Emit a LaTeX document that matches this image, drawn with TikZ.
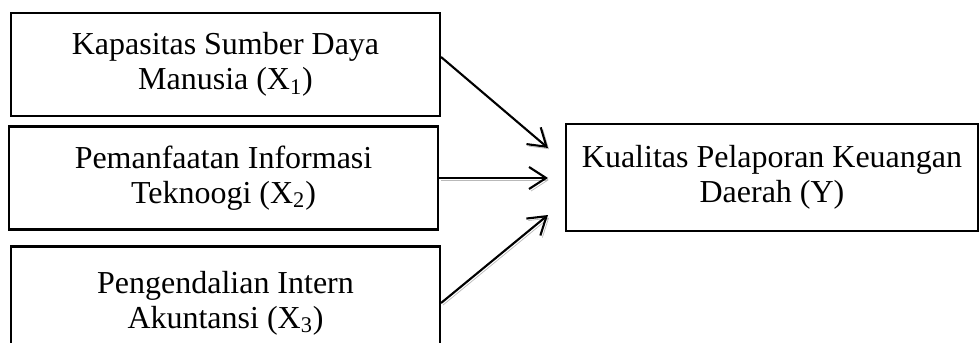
\documentclass[tikz,border=0pt]{standalone}
\usepackage{fontspec}
\setmainfont{Liberation Serif}
\usetikzlibrary{arrows.meta}

\tikzset{
  varbox/.style={draw=black, line width=1.2pt, minimum width=8.58cm, minimum height=2.06cm,
    align=center, inner sep=0pt, font=\fontsize{18.2}{20}\selectfont},
  arr/.style={line width=1.2pt, -{Straight Barb[length=0.34cm, width=0.44cm, line width=1.2pt]},
    preaction={draw=gray!55, transform canvas={shift={(0.04cm,-0.04cm)}}}}
}

\begin{document}
\begin{tikzpicture}
        \useasboundingbox (0,0) rectangle (19.58,6.84);
        \clip (0,0) rectangle (19.58,6.84);
        \node[varbox] (sdm) at (4.51,5.55) {Kapasitas Sumber Daya\\Manusia (X\textsubscript{1})};
        \node[varbox] (ti) at (4.47,3.28) {Pemanfaatan Informasi\\Teknoogi (X\textsubscript{2})};
        \node[varbox, minimum height=2.26cm] (pia) at (4.51,0.78) {Pengendalian Intern\\Akuntansi (X\textsubscript{3})};
        \node[varbox, minimum width=8.24cm, minimum height=2.14cm] (kpkd) at (15.44,3.29)
            {Kualitas Pelaporan Keuangan\\Daerah (Y)};
        \coordinate (tip1) at (10.96,3.88);
        \coordinate (tip2) at (10.96,3.28);
        \coordinate (tip3) at (10.96,2.54);
        \draw[arr] ([yshift=0.15cm]sdm.east) -- (tip1);
        \draw[arr] (ti.east) -- (tip2);
        \draw[arr] (pia.east) -- (tip3);
    \end{tikzpicture}
\end{document}
